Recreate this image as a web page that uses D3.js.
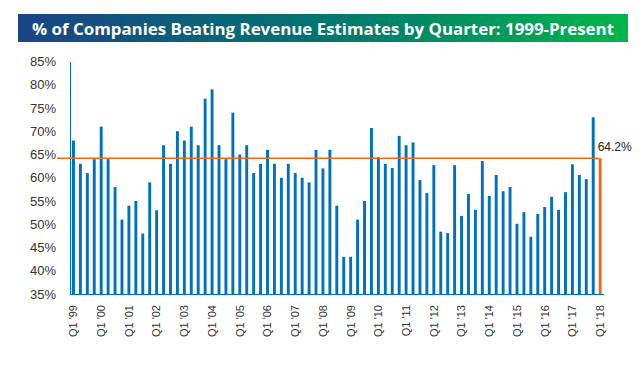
<!DOCTYPE html>
<html>
<head>
<meta charset="utf-8">
<script src="https://cdn.jsdelivr.net/npm/d3@7"></script>
<style>
  html, body { margin: 0; padding: 0; background: #fff; }
  svg { display: block; }
</style>
</head>
<body>
<svg id="chart" width="643" height="378"></svg>
<script>
// ---- Data ----
const title = "% of Companies Beating Revenue Estimates by Quarter: 1999-Present";
const years = ["99","00","01","02","03","04","05","06","07","08","09","10","11","12","13","14","15","16","17","18"];
const quarters = ["Q1","Q2","Q3","Q4"];
const values = [
  68, 63, 61, 64,   // 1999
  71, 64, 58, 51,   // 2000
  54, 55, 48, 59,   // 2001
  53, 67, 63, 70,   // 2002
  68, 71, 67, 77,   // 2003
  79, 67, 64, 74,   // 2004
  65, 67, 61, 63,   // 2005
  66, 63, 60, 63,   // 2006
  61, 60, 59, 66,   // 2007
  62, 66, 54, 43,   // 2008
  43, 51, 55, 70.7, // 2009
  64.4, 63, 62.1, 69, // 2010
  67, 67.6, 59.5, 56.7, // 2011
  62.7, 48.4, 48.1, 62.7, // 2012
  51.8, 56.5, 53.1, 63.6, // 2013
  56.1, 60.6, 57.1, 58,   // 2014
  50.1, 52.6, 47.3, 52.2, // 2015
  53.7, 55.9, 53.1, 56.9, // 2016
  62.9, 60.6, 59.7, 73,   // 2017
  64.2                    // 2018 Q1
];
const latestValue = 64.2;
const latestLabel = "64.2%";
const yTicks = [35, 40, 45, 50, 55, 60, 65, 70, 75, 80, 85];
const xTickLabels = ["Q1 '99","Q1 '00","Q1 '01","Q1 '02","Q1 '03","Q1 '04","Q1 '05","Q1 '06","Q1 '07","Q1 '08","Q1 '09","Q1 '10","Q1 '11","Q1 '12","Q1 '13","Q1 '14","Q1 '15","Q1 '16","Q1 '17","Q1 '18"];

// categories built from year/quarter lists
const categories = [];
years.forEach(y => quarters.forEach(q => categories.push(q + " '" + y)));
const cats = categories.slice(0, values.length);
const data = cats.map((c, i) => ({ cat: c, value: values[i] }));

// ---- Drawing ----
const svg = d3.select("#chart");
const blue = "#0070C0";
const orange = "#EC6A12";

// Title banner
const defs = svg.append("defs");
const grad = defs.append("linearGradient").attr("id", "tg").attr("x1", "0%").attr("x2", "100%");
grad.append("stop").attr("offset", "0%").attr("stop-color", "#1B4385");
grad.append("stop").attr("offset", "50%").attr("stop-color", "#017570");
grad.append("stop").attr("offset", "100%").attr("stop-color", "#00B64A");
svg.append("rect").attr("x", 18).attr("y", 14).attr("width", 610).attr("height", 28).attr("fill", "url(#tg)");
svg.append("text")
  .attr("x", 32).attr("y", 34.5)
  .attr("fill", "#fff")
  .attr("font-family", "'Open Sans', 'DejaVu Sans', sans-serif")
  .attr("font-weight", "bold")
  .attr("font-size", 16)
  .attr("textLength", 582)
  .attr("lengthAdjust", "spacingAndGlyphs")
  .text(title);

const x = d3.scaleBand().domain(cats).range([70, 603.6]).paddingInner(0.58).paddingOuter(0.29);
const y = d3.scaleLinear().domain([35, 85]).range([294, 61.5]);

// Y axis
const yAxis = svg.append("g").attr("transform", "translate(70,0)")
  .call(d3.axisLeft(y).tickValues(yTicks).tickSize(0).tickPadding(14).tickFormat(d => d + "%"));
yAxis.select(".domain").attr("stroke", blue).attr("stroke-width", 1);
yAxis.selectAll("text").attr("font-family", "'Liberation Sans', Arial, sans-serif").attr("font-size", 13).attr("fill", "#333");

// Bars
svg.append("g").selectAll("rect").data(data).join("rect")
  .attr("x", d => x(d.cat))
  .attr("width", x.bandwidth())
  .attr("y", d => y(d.value))
  .attr("height", d => y(35) - y(d.value))
  .attr("fill", (d, i) => i === data.length - 1 ? orange : blue);

// X axis
const xAxis = svg.append("g").attr("transform", "translate(0,294)")
  .call(d3.axisBottom(x).tickValues(xTickLabels).tickSize(0).tickPadding(0));
xAxis.select(".domain").attr("stroke", blue).attr("stroke-width", 1);
xAxis.selectAll("text")
  .attr("font-family", "'Liberation Sans', Arial, sans-serif")
  .attr("font-size", 11)
  .attr("fill", "#333")
  .attr("transform", "rotate(-90)")
  .attr("text-anchor", "end")
  .attr("dy", "0.35em")
  .attr("x", -11)
  .attr("y", 0);

// Latest-value reference line
const lastCat = cats[cats.length - 1];
svg.append("line")
  .attr("x1", 57).attr("x2", x(lastCat))
  .attr("y1", y(latestValue)).attr("y2", y(latestValue))
  .attr("stroke", orange).attr("stroke-width", 1.5);
svg.append("text")
  .attr("x", x(lastCat) - 1).attr("y", y(latestValue) - 7)
  .attr("font-family", "'Liberation Sans', Arial, sans-serif")
  .attr("font-size", 12)
  .attr("fill", "#222")
  .text(latestLabel);
</script>
</body>
</html>
